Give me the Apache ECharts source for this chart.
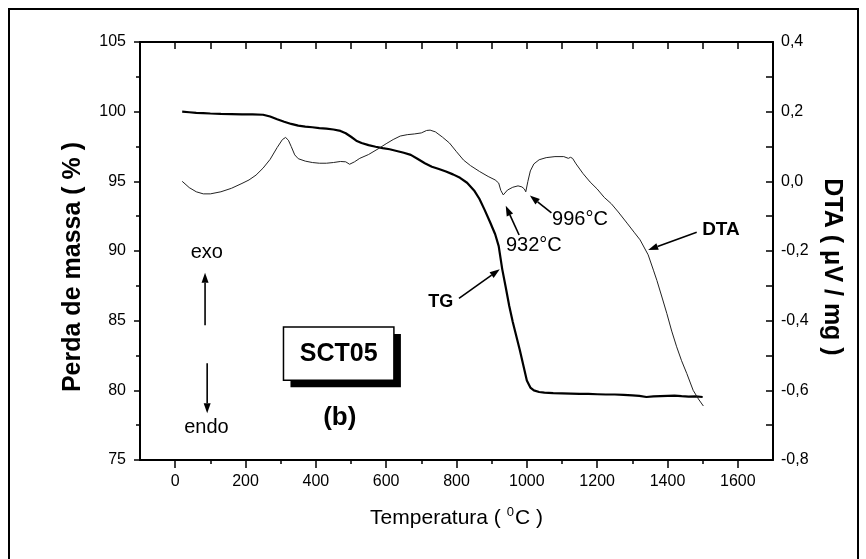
<!DOCTYPE html>
<html>
<head>
<meta charset="utf-8">
<script src="https://cdn.jsdelivr.net/npm/echarts@6/dist/echarts.min.js"></script>
<style>
  html, body { margin: 0; padding: 0; background: #fff; }
  #chart { width: 866px; height: 559px; }
</style>
</head>
<body>
<div id="chart"></div>
<script>
const FONT = '"Liberation Sans", Arial, sans-serif';

// TG curve: temperature (°C) and remaining mass (%)
const tgTemp = [20, 40, 60, 80, 100, 130, 160, 190, 220, 250, 270, 290, 310, 330, 350, 370, 390, 410, 430, 450,
  470, 485, 500, 515, 530, 550, 570, 590, 610, 630, 650, 670, 690, 710, 730, 750, 770, 790, 810, 830,
  850, 865, 880, 895, 910, 920, 930, 940, 950, 960, 970, 980, 990, 1000, 1010, 1020, 1035, 1050, 1075, 1100,
  1125, 1150, 1175, 1200, 1225, 1250, 1275, 1300, 1320, 1340, 1360, 1380, 1400, 1420, 1440, 1460, 1480, 1500];
const tgMass = [100.0, 99.96, 99.92, 99.9, 99.87, 99.84, 99.82, 99.8, 99.8, 99.78, 99.65, 99.45, 99.28, 99.12, 99.0, 98.93, 98.88, 98.82, 98.78, 98.72,
  98.62, 98.45, 98.2, 97.92, 97.75, 97.6, 97.48, 97.38, 97.3, 97.18, 97.05, 96.9, 96.6, 96.3, 96.05, 95.88, 95.7, 95.5, 95.25, 94.9,
  94.35, 93.75, 92.95, 92.1, 91.2, 90.35, 88.7, 87.4, 86.05, 84.9, 83.9, 82.9, 81.8, 80.7, 80.2, 80.0, 79.88, 79.84, 79.8, 79.78,
  79.76, 79.74, 79.74, 79.72, 79.7, 79.7, 79.67, 79.64, 79.6, 79.52, 79.56, 79.58, 79.6, 79.62, 79.58, 79.55, 79.56, 79.52];

// DTA curve: temperature (°C) and signal (µV/mg)
const dtaTemp = [20, 40, 60, 80, 100, 130, 160, 190, 210, 230, 250, 270, 290, 305, 314, 322, 330, 340, 350, 370,
  390, 410, 430, 450, 470, 485, 496, 510, 525, 550, 580, 600, 620, 640, 660, 680, 700, 715, 725, 740,
  760, 780, 800, 820, 840, 866, 890, 910, 920, 926, 933, 945, 960, 975, 986, 993, 997, 1003, 1010, 1020,
  1035, 1055, 1080, 1105, 1118, 1124, 1130, 1140, 1160, 1180, 1200, 1220, 1240, 1260, 1285, 1305, 1322, 1345, 1360, 1370,
  1385, 1398, 1412, 1426, 1440, 1455, 1473, 1488, 1502];
const dtaSignal = [0.0, -0.018, -0.03, -0.036, -0.036, -0.03, -0.02, -0.006, 0.004, 0.018, 0.038, 0.063, 0.097, 0.12, 0.126, 0.118, 0.1, 0.076, 0.065, 0.058,
  0.054, 0.052, 0.052, 0.054, 0.057, 0.056, 0.049, 0.056, 0.066, 0.077, 0.095, 0.108, 0.12, 0.13, 0.134, 0.136, 0.139, 0.146, 0.147, 0.142,
  0.127, 0.11, 0.085, 0.061, 0.045, 0.028, 0.014, 0.004, -0.005, -0.026, -0.039, -0.025, -0.017, -0.013, -0.016, -0.022, -0.03, 0.0, 0.03, 0.05,
  0.062, 0.068, 0.071, 0.071, 0.066, 0.069, 0.066, 0.05, 0.022, -0.002, -0.022, -0.046, -0.064, -0.088, -0.12, -0.146, -0.168, -0.211, -0.255, -0.285,
  -0.335, -0.379, -0.43, -0.475, -0.515, -0.552, -0.6, -0.625, -0.645];

// Temperature axis: labelled ticks and the unlabelled ticks between them
const tempLabelTicks = [0, 200, 400, 600, 800, 1000, 1200, 1400, 1600];
const tempMinorTicks = [100, 300, 500, 700, 900, 1100, 1300, 1500];

// Annotation anchors, in (temperature, mass %) units
const noteTexts = [
  { text: 'exo', at: [90, 89.9], size: 20, bold: false },
  { text: 'endo', at: [89, 77.35], size: 20, bold: false },
  { text: '(b)', at: [468, 78.0], size: 26, bold: true },
  { text: 'TG', at: [755, 86.34], size: 18, bold: true },
  { text: '932°C', at: [1020, 90.43], size: 20, bold: false },
  { text: '996°C', at: [1151, 92.23], size: 20, bold: false },
  { text: 'DTA', at: [1552, 91.5], size: 19, bold: true }
];
const noteArrows = [
  { from: [85, 84.68], to: [85, 88.44] },
  { from: [91, 81.95], to: [91, 78.36] },
  { from: [807, 86.6], to: [923, 88.69] },
  { from: [978, 91.15], to: [940, 93.24] },
  { from: [1070, 92.73], to: [1008.6, 93.98] },
  { from: [1483, 91.35], to: [1345, 90.08] }
];
const sampleBox = { text: 'SCT05', from: [308, 84.54], to: [622, 80.73] };

const chart = echarts.init(document.getElementById('chart'), null, { renderer: 'canvas' });

const black = '#000';
const axisLine = { show: true, onZero: false, lineStyle: { color: black, width: 2 } };
const tickLine = { color: black, width: 1.5 };
const labelStyle = { color: black, fontSize: 16, fontFamily: FONT };

chart.setOption({
  animation: false,
  backgroundColor: '#fff',
  grid: { left: 140, right: 93, top: 42, bottom: 99, containLabel: false, outerBoundsMode: 'none' },
  xAxis: [
    {
      type: 'value', position: 'bottom', min: -100, max: 1700, interval: 100,
      axisLine: axisLine,
      axisTick: { show: true, length: 8, lineStyle: tickLine, customValues: tempLabelTicks },
      axisLabel: Object.assign({ margin: 14, customValues: tempLabelTicks, formatter: v => String(v) }, labelStyle),
      splitLine: { show: false },
      name: '{t|Temperatura ( }{s|0}{t|C )}',
      nameLocation: 'middle', nameGap: 46,
      nameTextStyle: {
        rich: {
          t: { fontSize: 21, fontFamily: FONT, color: black },
          s: { fontSize: 13, fontFamily: FONT, color: black, padding: [0, 1, 12, 0] }
        }
      }
    },
    {
      type: 'value', position: 'top', min: -100, max: 1700, interval: 100,
      axisLine: axisLine,
      axisTick: { show: true, inside: true, length: 7, lineStyle: tickLine },
      axisLabel: { show: false },
      splitLine: { show: false }
    },
    {
      type: 'value', position: 'bottom', min: -100, max: 1700, interval: 100,
      axisLine: { show: false, onZero: false },
      axisTick: { show: true, length: 4, lineStyle: tickLine, customValues: tempMinorTicks },
      axisLabel: { show: false },
      splitLine: { show: false }
    }
  ],
  yAxis: [
    {
      type: 'value', position: 'left', min: 75, max: 105, interval: 5,
      axisLine: axisLine,
      axisTick: { show: true, length: 6, lineStyle: tickLine },
      minorTick: { show: true, splitNumber: 2, length: 4, lineStyle: tickLine },
      axisLabel: Object.assign({ margin: 14 }, labelStyle),
      splitLine: { show: false },
      name: 'Perda de massa ( % )',
      nameLocation: 'middle', nameRotate: 90, nameGap: 54,
      nameTextStyle: { fontSize: 25, fontWeight: 'bold', fontFamily: FONT, color: black, padding: [0, 32, 0, 0] }
    },
    {
      type: 'value', position: 'right', min: -0.8, max: 0.4, interval: 0.2,
      axisLine: axisLine,
      axisTick: { show: true, inside: true, length: 7, lineStyle: tickLine },
      minorTick: { show: true, splitNumber: 2, length: 7, lineStyle: tickLine },
      axisLabel: Object.assign({
        margin: 8,
        formatter: v => (Math.round(v * 10) / 10).toFixed(1).replace('.', ',')
      }, labelStyle),
      splitLine: { show: false },
      name: 'DTA ( μV / mg )',
      nameLocation: 'middle', nameRotate: -90, nameGap: 43,
      nameTextStyle: { fontSize: 25, fontWeight: 'bold', fontFamily: FONT, color: black, padding: [0, 0, 0, 32] }
    }
  ],
  series: [
    {
      name: 'TG', type: 'line', xAxisIndex: 0, yAxisIndex: 0,
      data: tgTemp.map((t, i) => [t, tgMass[i]]),
      symbol: 'none', smooth: false,
      lineStyle: { color: '#000', width: 2.2 }
    },
    {
      name: 'DTA', type: 'line', xAxisIndex: 0, yAxisIndex: 1,
      data: dtaTemp.map((t, i) => [t, dtaSignal[i]]),
      symbol: 'none', smooth: false,
      lineStyle: { color: '#222', width: 1 }
    }
  ]
});

// Annotations are placed through the chart's own coordinate system
const px = p => chart.convertToPixel({ xAxisIndex: 0, yAxisIndex: 0 }, p);

function arrowGraphic(fromPt, toPt) {
  const a = px(fromPt), b = px(toPt);
  const dx = b[0] - a[0], dy = b[1] - a[1];
  const len = Math.hypot(dx, dy);
  const ux = dx / len, uy = dy / len;
  const headLen = 10, headHalf = 3.5;
  const baseX = b[0] - ux * headLen, baseY = b[1] - uy * headLen;
  return {
    type: 'group',
    children: [
      { type: 'line', shape: { x1: a[0], y1: a[1], x2: baseX, y2: baseY },
        style: { stroke: '#000', lineWidth: 1.6 } },
      { type: 'polygon',
        shape: { points: [[b[0], b[1]], [baseX - uy * headHalf, baseY + ux * headHalf], [baseX + uy * headHalf, baseY - ux * headHalf]] },
        style: { fill: '#000' } }
    ]
  };
}

const graphics = [];
// page frame
graphics.push({ type: 'rect', shape: { x: 9, y: 9, width: 849, height: 600 },
  style: { fill: 'none', stroke: '#000', lineWidth: 2 }, z: 10 });

noteTexts.forEach(n => {
  const p = px(n.at);
  graphics.push({
    type: 'text', x: p[0], y: p[1], z: 20,
    style: {
      text: n.text, fill: '#000',
      font: (n.bold ? 'bold ' : '') + n.size + 'px ' + FONT,
      textAlign: 'center', textVerticalAlign: 'middle'
    }
  });
});
noteArrows.forEach(a => { const g = arrowGraphic(a.from, a.to); g.z = 20; graphics.push(g); });

// sample label box with a solid drop shadow
const b0 = px(sampleBox.from), b1 = px(sampleBox.to);
const bw = b1[0] - b0[0], bh = b1[1] - b0[1];
graphics.push({ type: 'rect', z: 19, shape: { x: b0[0] + 7, y: b0[1] + 7, width: bw, height: bh }, style: { fill: '#000' } });
graphics.push({ type: 'rect', z: 20, shape: { x: b0[0], y: b0[1], width: bw, height: bh }, style: { fill: '#fff', stroke: '#000', lineWidth: 1.5 } });
graphics.push({
  type: 'text', z: 21, x: b0[0] + bw / 2, y: b0[1] + bh / 2,
  style: { text: sampleBox.text, fill: '#000', font: 'bold 25px ' + FONT, textAlign: 'center', textVerticalAlign: 'middle' }
});

chart.setOption({ graphic: graphics });
</script>
</body>
</html>
